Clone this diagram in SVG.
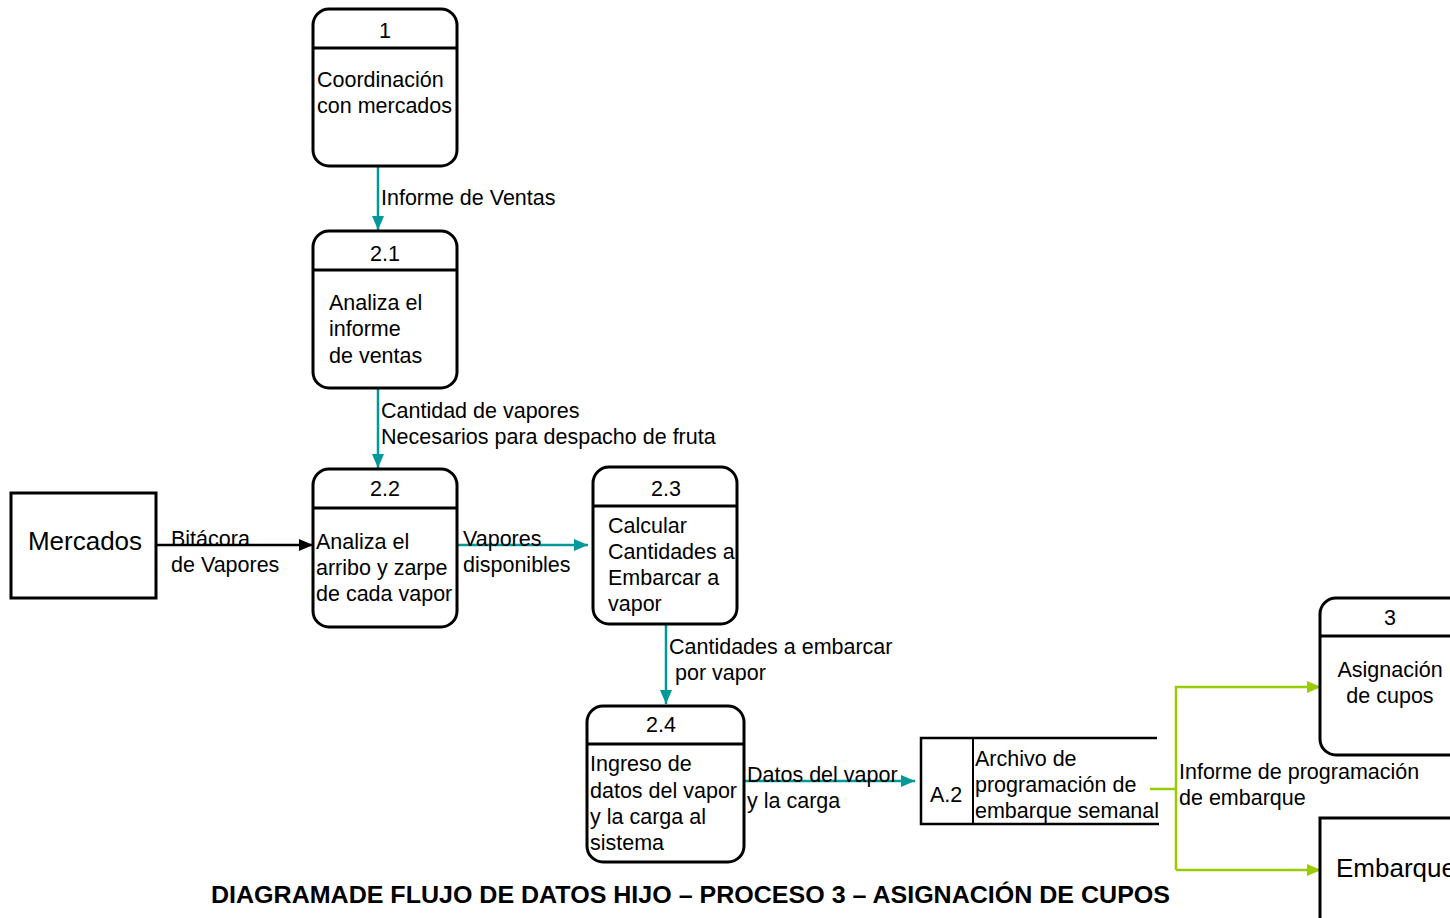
<svg xmlns="http://www.w3.org/2000/svg" width="1450" height="918" viewBox="0 0 1450 918">
<style>
  .box { fill: #fff; stroke: #000; stroke-width: 3; }
  .div { stroke: #000; stroke-width: 3; }
  .t { font-family: "Liberation Sans", Arial, sans-serif; font-size: 21.5px; fill: #000; }
  .c { text-anchor: middle; }
  .big { font-family: "Liberation Sans", Arial, sans-serif; font-size: 26px; fill: #000; }
  .teal { stroke: #009999; stroke-width: 2.5; fill: none; }
  .blk { stroke: #000; stroke-width: 2.5; fill: none; }
  .grn { stroke: #99CC00; stroke-width: 2.5; fill: none; }
  .title { font-family: "Liberation Sans", Arial, sans-serif; font-size: 24px; font-weight: bold; fill: #000; }
</style>
<defs>
  <marker id="aT" markerUnits="userSpaceOnUse" markerWidth="14" markerHeight="12" refX="14" refY="6" orient="auto">
    <path d="M0,0 L14,6 L0,12 Z" fill="#009999"/>
  </marker>
  <marker id="aK" markerUnits="userSpaceOnUse" markerWidth="14" markerHeight="12" refX="14" refY="6" orient="auto">
    <path d="M0,0 L14,6 L0,12 Z" fill="#000"/>
  </marker>
  <marker id="aG" markerUnits="userSpaceOnUse" markerWidth="14" markerHeight="12" refX="14" refY="6" orient="auto">
    <path d="M0,0 L14,6 L0,12 Z" fill="#99CC00"/>
  </marker>
</defs>
<rect width="1450" height="918" fill="#fff"/>

<g id="connectors">
  <line class="teal" x1="378" y1="166" x2="378" y2="230" marker-end="url(#aT)"/>
  <line class="teal" x1="378" y1="388" x2="378" y2="468" marker-end="url(#aT)"/>
  <line class="blk" x1="156" y1="545" x2="313" y2="545" marker-end="url(#aK)"/>
  <line class="teal" x1="457" y1="545" x2="588" y2="545" marker-end="url(#aT)"/>
  <line class="teal" x1="666" y1="624" x2="666" y2="704" marker-end="url(#aT)"/>
  <line class="teal" x1="744" y1="781" x2="915" y2="781" marker-end="url(#aT)"/>
  <polyline class="grn" points="1150,789 1176,789"/>
  <polyline class="grn" points="1176,870 1176,687 1321,687" marker-end="url(#aG)"/>
  <polyline class="grn" points="1176,870 1321,870" marker-end="url(#aG)"/>
  <text class="t" x="381" y="205">Informe de Ventas</text>
  <text class="t" x="381" y="418">Cantidad de vapores</text>
  <text class="t" x="381" y="444">Necesarios para despacho de fruta</text>
  <text class="t" x="171" y="546">Bitácora</text>
  <text class="t" x="171" y="572">de Vapores</text>
  <text class="t" x="463" y="546">Vapores</text>
  <text class="t" x="463" y="572">disponibles</text>
  <text class="t" x="669" y="654">Cantidades a embarcar</text>
  <text class="t" x="675" y="680">por vapor</text>
  <text class="t" x="747" y="782">Datos del vapor</text>
  <text class="t" x="747" y="808">y la carga</text>
  <text class="t" x="1179" y="779">Informe de programación</text>
  <text class="t" x="1179" y="805">de embarque</text>
</g>

<g id="p1">
  <rect class="box" x="313" y="9" width="144" height="157" rx="16"/>
  <line class="div" x1="313" y1="48" x2="457" y2="48"/>
  <text class="t c" x="385" y="38">1</text>
  <text class="t" x="317" y="87">Coordinación</text>
  <text class="t" x="317" y="113">con mercados</text>
</g>

<g id="p21">
  <rect class="box" x="313" y="231" width="144" height="157" rx="16"/>
  <line class="div" x1="313" y1="270" x2="457" y2="270"/>
  <text class="t c" x="385" y="261">2.1</text>
  <text class="t" x="329" y="310">Analiza el</text>
  <text class="t" x="329" y="336">informe</text>
  <text class="t" x="329" y="363">de ventas</text>
</g>

<g id="p22">
  <rect class="box" x="313" y="469" width="144" height="158" rx="16"/>
  <line class="div" x1="313" y1="508" x2="457" y2="508"/>
  <text class="t c" x="385" y="496">2.2</text>
  <text class="t" x="316" y="549">Analiza el</text>
  <text class="t" x="316" y="575">arribo y zarpe</text>
  <text class="t" x="316" y="601">de cada vapor</text>
</g>

<g id="mercados">
  <rect class="box" x="11" y="493" width="145" height="105"/>
  <text class="big c" x="85" y="550">Mercados</text>
</g>

<g id="p23">
  <rect class="box" x="593" y="467" width="144" height="157" rx="16"/>
  <line class="div" x1="593" y1="506" x2="737" y2="506"/>
  <text class="t c" x="666" y="496">2.3</text>
  <text class="t" x="608" y="533">Calcular</text>
  <text class="t" x="608" y="559">Cantidades a</text>
  <text class="t" x="608" y="585">Embarcar a</text>
  <text class="t" x="608" y="611">vapor</text>
</g>

<g id="p24">
  <rect class="box" x="587" y="706" width="157" height="156" rx="16"/>
  <line class="div" x1="587" y1="744" x2="744" y2="744"/>
  <text class="t c" x="661" y="732">2.4</text>
  <text class="t" x="590" y="771">Ingreso de</text>
  <text class="t" x="590" y="798">datos del vapor</text>
  <text class="t" x="590" y="824">y la carga al</text>
  <text class="t" x="590" y="850">sistema</text>
</g>

<g id="a2">
  <path d="M1157,738 L921,738 L921,824 L1159,824" fill="none" stroke="#000" stroke-width="2.5"/>
  <line x1="973" y1="738" x2="973" y2="824" stroke="#000" stroke-width="2"/>
  <text class="t" x="930" y="802">A.2</text>
  <text class="t" x="975" y="766">Archivo de</text>
  <text class="t" x="975" y="792">programación de</text>
  <text class="t" x="975" y="818">embarque semanal</text>
</g>

<g id="p3">
  <rect class="box" x="1320" y="598" width="144" height="157" rx="16"/>
  <line class="div" x1="1320" y1="636" x2="1464" y2="636"/>
  <text class="t c" x="1390" y="625">3</text>
  <text class="t c" x="1390" y="677">Asignación</text>
  <text class="t c" x="1390" y="703">de cupos</text>
</g>

<g id="embarque">
  <rect class="box" x="1320" y="818" width="160" height="120"/>
  <text class="big" x="1336" y="877">Embarque</text>
</g>

<text class="title" x="211" y="903" textLength="959" lengthAdjust="spacingAndGlyphs">DIAGRAMADE FLUJO DE DATOS HIJO – PROCESO 3 – ASIGNACIÓN DE CUPOS</text>
</svg>
